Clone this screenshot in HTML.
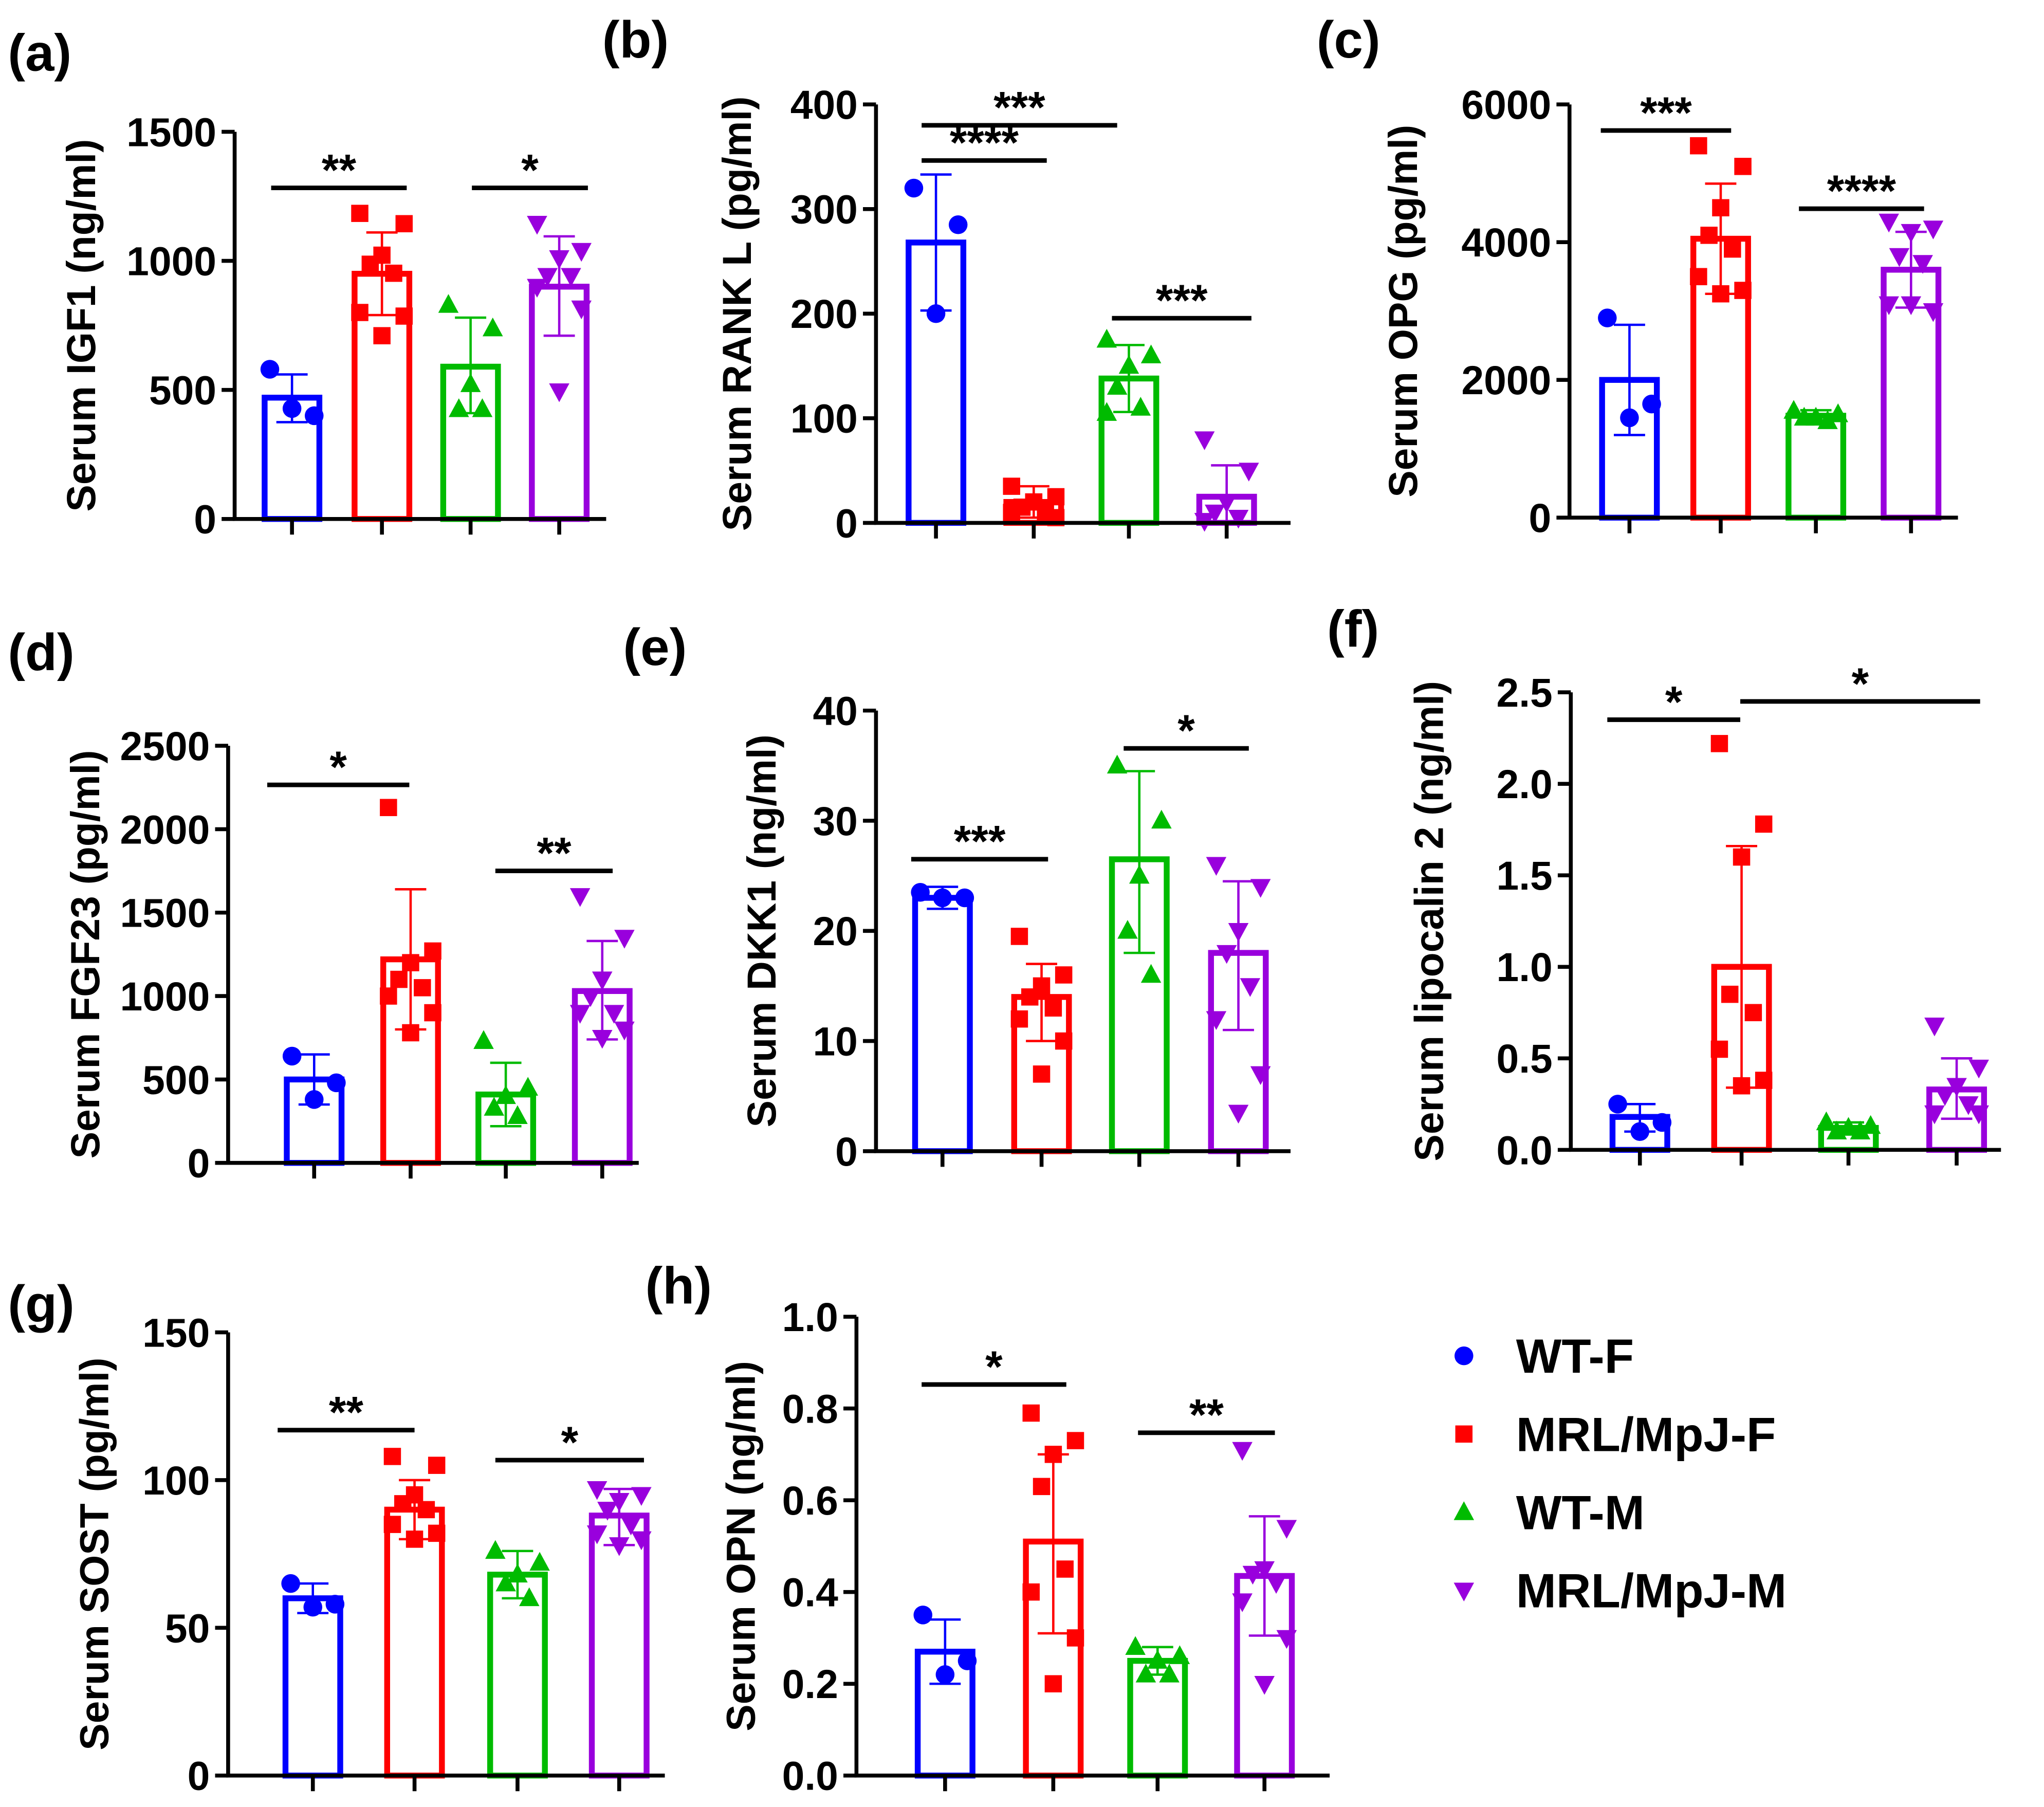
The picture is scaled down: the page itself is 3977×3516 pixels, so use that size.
<!DOCTYPE html>
<html><head><meta charset="utf-8"><style>
html,body{margin:0;padding:0;background:#fff}
svg{display:block}
text{font-family:"Liberation Sans",Arial,sans-serif;font-weight:bold;fill:#000}
</style></head><body>
<svg id="fig" xmlns="http://www.w3.org/2000/svg" width="3977" height="3516" viewBox="0 0 1568 1386"></svg>
<script>
const groups=["WT-F","MRL/MpJ-F","WT-M","MRL/MpJ-M"];
const colors=["#0000ff","#ff0000","#00bb00","#9900dd"];
// (a) IGF1
const igf1Means=[470,950,590,900];
const igf1Hi=[560,1110,780,1095];
const igf1Lo=[375,790,410,710];
const igf1Pts=[[580,400,428],[1184,1144,1022,987,952,800,786,710],[829,738,522,425,425],[1144,1039,1011,942,942,900,816,495]];
const igf1Ticks=[0,500,1000,1500];
// (b) RANKL
const rankMeans=[268,20,138,25];
const rankHi=[333,35,170,55];
const rankLo=[203,5,106,0];
const rankPts=[[320,285,200],[35,25,20,15,10,10,5,20],[175,160,150,130,110,105],[80,50,20,10,5,2]];
const rankTicks=[0,100,200,300,400];
// (c) OPG
const opgMeans=[2000,4050,1480,3600];
const opgHi=[2800,4850,1560,4150];
const opgLo=[1200,3250,1400,3050];
const opgPts=[[2900,1650,1450],[5400,5100,4500,4100,3900,3500,3300,3250],[1550,1500,1450,1450,1400],[4300,4200,4150,3800,3700,3100,3000,3100]];
const opgTicks=[0,2000,4000,6000];
// (d) FGF23
const fgfMeans=[500,1220,410,1030];
const fgfHi=[650,1640,600,1330];
const fgfLo=[350,800,220,740];
const fgfPts=[[640,480,380],[2130,1270,1200,1100,1050,1000,900,780],[730,450,400,330,280],[1600,1350,1100,1000,900,900,800,750]];
const fgfTicks=[0,500,1000,1500,2000,2500];
// (e) DKK1
const dkkMeans=[23,14,26.5,18];
const dkkHi=[24,17,34.5,24.5];
const dkkLo=[22,10,18,11];
const dkkPts=[[23.5,23,23],[19.5,16,15,14,13,12,10,7],[35,30,25,20,16],[26,24,20,18,15,12,7,3.5]];
const dkkTicks=[0,10,20,30,40];
// (f) lipocalin 2
const lcnMeans=[0.18,1.0,0.12,0.33];
const lcnHi=[0.25,1.66,0.15,0.5];
const lcnLo=[0.1,0.34,0.09,0.17];
const lcnPts=[[0.25,0.15,0.1],[2.22,1.78,1.6,0.85,0.75,0.55,0.38,0.35],[0.15,0.13,0.12,0.1,0.1],[0.68,0.45,0.35,0.3,0.25,0.2,0.2]];
const lcnTicks=["0.0","0.5","1.0","1.5","2.0","2.5"];
// (g) SOST
const sostMeans=[60,90,68,88];
const sostHi=[65,100,76,97];
const sostLo=[55,80,60,78];
const sostPts=[[65,58,57],[108,105,95,92,90,85,82,80],[76,72,68,65,60],[97,95,93,90,85,82,80,78]];
const sostTicks=[0,50,100,150];
// (h) OPN
const opnMeans=[0.27,0.51,0.25,0.435];
const opnHi=[0.34,0.70,0.28,0.565];
const opnLo=[0.20,0.31,0.22,0.305];
const opnPts=[[0.35,0.25,0.22],[0.79,0.73,0.70,0.63,0.45,0.40,0.30,0.20],[0.28,0.26,0.25,0.22,0.22],[0.71,0.54,0.45,0.44,0.42,0.38,0.30,0.20]];
const opnTicks=["0.0","0.2","0.4","0.6","0.8","1.0"];

const NS="http://www.w3.org/2000/svg";
const svg=document.getElementById('fig');
function el(tag,attrs,parent){const e=document.createElementNS(NS,tag);for(const k in attrs)e.setAttribute(k,attrs[k]);(parent||svg).appendChild(e);return e;}
function marker(g,type,x,y,c,s){
  let m;
  if(type===0)m=el('circle',{cx:x,cy:y,r:s*0.6,fill:c},g);
  else if(type===1)m=el('rect',{x:x-s*0.55,y:y-s*0.55,width:s*1.1,height:s*1.1,fill:c},g);
  else if(type===2)m=el('polygon',{points:`${x},${y-s*0.7} ${x-s*0.65},${y+s*0.5} ${x+s*0.65},${y+s*0.5}`,fill:c},g);
  else m=el('polygon',{points:`${x},${y+s*0.7} ${x-s*0.65},${y-s*0.5} ${x+s*0.65},${y-s*0.5}`,fill:c},g);
  return m;
}
const jit=[-17,17,0,-9,9,-17,17,0];
function panel(o){
  const g=el('g',{});
  
  
  const tmin=0,tmax=parseFloat(o.ticks[o.ticks.length-1]);
  const Y=v=>o.y0-(v-tmin)/(tmax-tmin)*(o.y0-o.y1);
  const X=i=>o.xs[i];
  const lab=el('text',{x:o.lx,y:o.ly,'font-size':40},g);lab.textContent=o.label;
  
  const bw=42;
  o.means.forEach((m,i)=>{
    const b=el('rect',{x:X(i)-bw/2,y:Y(m),width:bw,height:o.y0-Y(m),fill:'none',stroke:colors[i],'stroke-width':4.5},g);
    
    
    const e=el('path',{d:`M${X(i)},${Y(o.lo[i])}V${Y(o.hi[i])}M${X(i)-12},${Y(o.hi[i])}h24M${X(i)-12},${Y(o.lo[i])}h24`,stroke:colors[i],'stroke-width':1.8,fill:'none'},g);
    
    
    o.pts[i].forEach((v,j)=>{
      const p=marker(g,i,X(i)+jit[j%8],Y(v),colors[i],12);
      
      
    });
  });
  const ax=el('path',{d:`M${o.ax},${o.y1}V${o.y0}H${o.xend}`,stroke:'#000','stroke-width':3,fill:'none'},g);
  
  
  o.ticks.forEach(t=>{
    const v=parseFloat(t);
    el('line',{x1:o.ax-10,x2:o.ax,y1:Y(v),y2:Y(v),stroke:'#000','stroke-width':3},g);
    const tx=el('text',{x:o.ax-14,y:Y(v)+11,'font-size':31,'text-anchor':'end'},g);tx.textContent=t;
    
    
  });
  o.xs.forEach(x=>el('line',{x1:x,x2:x,y1:o.y0,y2:o.y0+12,stroke:'#000','stroke-width':3},g));
  const cy=(o.y0+o.y1)/2;
  const tt=el('text',{x:o.tx,y:cy,'font-size':31,'text-anchor':'middle',transform:`rotate(-90 ${o.tx} ${cy})`},g);
  tt.textContent=o.title;
  
  
  o.sig.forEach(s=>{
    const l=el('line',{x1:s[0],x2:s[1],y1:s[2],y2:s[2],stroke:'#000','stroke-width':3.5},g);
    
    
    const st=el('text',{x:(s[0]+s[1])/2,y:s[2]-2,'font-size':34,'text-anchor':'middle'},g);st.textContent=s[3];
    
    
  });
}
panel({id:'igf1',label:'(a)',lx:6,ly:54,ax:180,y0:398,y1:101,xend:465,xs:[224,293,361,429],tx:73,title:'Serum IGF1 (ng/ml)',ticks:igf1Ticks,means:igf1Means,hi:igf1Hi,lo:igf1Lo,pts:igf1Pts,sig:[[208,312,144,'**'],[362,451,144,'*']]});
panel({id:'rankl',label:'(b)',lx:462,ly:44,ax:672,y0:401,y1:80,xend:990,xs:[718,793,866,941],tx:576,title:'Serum RANK L (pg/ml)',ticks:rankTicks,means:rankMeans,hi:rankHi,lo:rankLo,pts:rankPts,sig:[[707,857,96,'***'],[707,803,123,'****'],[853,960,244,'***']]});
panel({id:'opg',label:'(c)',lx:1010,ly:44,ax:1204,y0:397,y1:80,xend:1502,xs:[1250,1320,1393,1466],tx:1087,title:'Serum OPG (pg/ml)',ticks:opgTicks,means:opgMeans,hi:opgHi,lo:opgLo,pts:opgPts,sig:[[1228,1328,100,'***'],[1380,1476,160,'****']]});
panel({id:'fgf23',label:'(d)',lx:6,ly:514,ax:175,y0:892,y1:572,xend:490,xs:[241,315,388,462],tx:76,title:'Serum FGF23 (pg/ml)',ticks:fgfTicks,means:fgfMeans,hi:fgfHi,lo:fgfLo,pts:fgfPts,sig:[[205,314,602,'*'],[380,470,668,'**']]});
panel({id:'dkk1',label:'(e)',lx:478,ly:510,ax:672,y0:883,y1:545,xend:990,xs:[723,799,874,950],tx:595,title:'Serum DKK1 (ng/ml)',ticks:dkkTicks,means:dkkMeans,hi:dkkHi,lo:dkkLo,pts:dkkPts,sig:[[699,804,659,'***'],[862,958,574,'*']]});
panel({id:'lcn2',label:'(f)',lx:1018,ly:496,ax:1205,y0:882,y1:531,xend:1535,xs:[1258,1336,1418,1501],tx:1107,title:'Serum lipocalin 2 (ng/ml)',ticks:lcnTicks,means:lcnMeans,hi:lcnHi,lo:lcnLo,pts:lcnPts,sig:[[1233,1335,552,'*'],[1335,1519,538,'*']]});
panel({id:'sost',label:'(g)',lx:6,ly:1014,ax:175,y0:1362,y1:1022,xend:510,xs:[240,318,397,475],tx:83,title:'Serum SOST (pg/ml)',ticks:sostTicks,means:sostMeans,hi:sostHi,lo:sostLo,pts:sostPts,sig:[[213,318,1097,'**'],[380,494,1120,'*']]});
panel({id:'opn',label:'(h)',lx:495,ly:1000,ax:657,y0:1362,y1:1010,xend:1020,xs:[725,808,888,970],tx:579,title:'Serum OPN (ng/ml)',ticks:opnTicks,means:opnMeans,hi:opnHi,lo:opnLo,pts:opnPts,sig:[[707,818,1062,'*'],[873,978,1099,'**']]});
// legend
const lg=el('g',{});


groups.forEach((n,i)=>{
  const y=1040+i*60;
  const m=marker(lg,i,1123,y,colors[i],12);
  
  
  const t=el('text',{x:1163,y:y+13,'font-size':37},lg);t.textContent=n;
  
  
});
</script>
</body></html>
